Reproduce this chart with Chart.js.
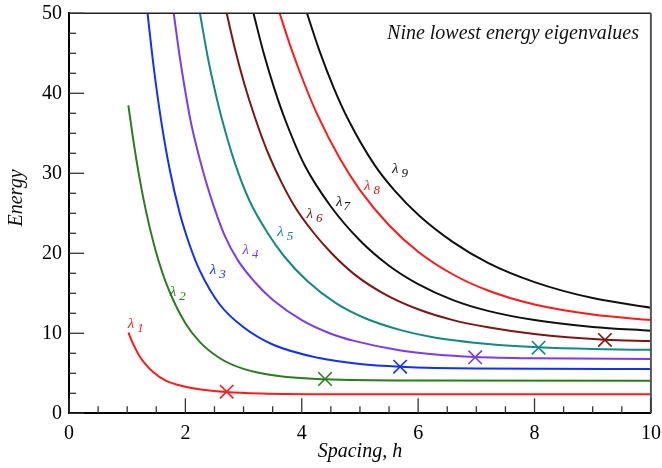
<!DOCTYPE html>
<html><head><meta charset="utf-8">
<script src="https://cdn.jsdelivr.net/npm/chart.js@4.4.0/dist/chart.umd.min.js"></script>
<style>html,body{margin:0;padding:0;background:#fff;}</style>
</head><body>
<canvas id="c" width="662" height="468"></canvas>
<script>
// ---- data (h = spacing, E = energy) ----
const seriesNames = ['λ1','λ2','λ3','λ4','λ5','λ6','λ7','λ8','λ9'];
const lambda1 = [[1.02,10.1],[1.1,8.7],[1.2,7.3],[1.3,6.27],[1.45,5.12],[1.67,4.05],[2.0,3.33],[2.3,2.95],[2.7,2.66],[3.3,2.48],[4.5,2.39],[10,2.37]];
const lambda2 = [[1.02,38.5],[1.1,34.4],[1.2,29.9],[1.33,25.05],[1.5,20.05],[1.7,15.7],[2.0,11.25],[2.25,8.9],[2.6,6.85],[3.0,5.55],[3.6,4.65],[4.4,4.25],[6,4.1],[10,4.08]];
const lambda3 = [[1.35,50],[1.45,43.6],[1.58,36.75],[1.73,30.5],[1.9,25.1],[2.07,21.1],[2.25,17.8],[2.59,13.6],[3.0,10.75],[3.5,8.6],[4.3,6.9],[5.0,6.15],[5.69,5.82],[7,5.6],[10,5.54]];
const lambda4 = [[1.80,50],[1.9,44.7],[1.99,40.6],[2.1,36.2],[2.25,31.7],[2.42,27.4],[2.67,22.3],[2.9,19.15],[3.2,16.35],[3.5,14.2],[4.0,11.65],[4.5,9.95],[4.9,9.05],[5.7,7.85],[6.3,7.35],[6.98,7.05],[8,6.88],[10,6.79]];
const lambda5 = [[2.25,50],[2.38,44.7],[2.5,40.6],[2.62,37.0],[2.85,31.3],[3.1,26.6],[3.4,22.7],[3.7,19.6],[4.1,16.5],[4.6,13.7],[5.1,11.85],[5.7,10.4],[6.3,9.45],[7.2,8.67],[8.07,8.25],[9,8.03],[10,7.93]];
const lambda6 = [[2.71,50],[2.85,45.6],[3.02,41.0],[3.19,37.1],[3.4,32.9],[3.65,28.9],[3.9,25.6],[4.2,22.6],[4.5,20.1],[4.9,17.4],[5.4,15.0],[6.0,13.0],[6.6,11.65],[7.2,10.75],[8.0,9.9],[9.21,9.2],[10,9.04]];
const lambda7 = [[3.17,50],[3.35,44.9],[3.53,40.55],[3.72,36.6],[4.05,31.0],[4.5,25.85],[5.0,21.6],[5.5,18.45],[6.0,16.15],[6.6,14.15],[7.2,12.8],[8.0,11.65],[9.0,10.8],[10,10.33]];
const lambda8 = [[3.62,50],[3.8,46.0],[4.05,41.1],[4.27,37.3],[4.65,31.9],[5.0,27.9],[5.5,23.5],[6.0,20.2],[6.6,17.35],[7.2,15.35],[8.0,13.6],[9.0,12.35],[10,11.65]];
const lambda9 = [[4.09,50],[4.3,45.4],[4.56,40.5],[4.8,36.7],[5.25,31.05],[5.6,27.8],[6.02,24.7],[6.6,21.4],[7.2,18.8],[8.0,16.4],[9.0,14.4],[10,13.2]];
const markerH = [2.71,4.4,5.69,6.98,8.07,9.21];
const markerE = [2.7,4.29,5.83,7.0,8.2,9.17];
const labelH = [1.01,1.73,2.42,2.98,3.58,4.08,4.59,5.07,5.55];
const labelE = [10.66,14.7,17.4,19.9,22.2,24.4,25.9,27.9,30.0];
const xTicks = [0,2,4,6,8,10];
const yTicks = [0,10,20,30,40,50];
const titleText = 'Nine lowest energy eigenvalues';
const xTitle = 'Spacing, h';
const yTitle = 'Energy';

const colors = ['#ff1a1a','#2a7d1c','#1030ff','#7a3cf0','#128a84','#7f1414','#111111','#ff1a1a','#111111'];
const allSeries = [lambda1,lambda2,lambda3,lambda4,lambda5,lambda6,lambda7,lambda8,lambda9];
const SERIF = "'Liberation Serif','DejaVu Serif',serif";

const datasets = [{
  label: 'markers',
  data: markerH.map((h,i)=>({x:h,y:markerE[i]})),
  showLine: false,
  pointStyle: 'crossRot',
  pointRadius: 9.5,
  pointBorderWidth: 1.6,
  pointBorderColor: colors.slice(0,6),
  pointBackgroundColor: colors.slice(0,6),
  order: -1
}].concat(allSeries.map((s,i)=>({
  label: seriesNames[i],
  data: s.map(([x,y])=>({x,y})),
  showLine: true,
  borderColor: colors[i],
  borderWidth: 2,
  pointRadius: 0,
  cubicInterpolationMode: 'monotone',
  fill: false
})));

const deco = {
  id: 'deco',
  afterDraw(chart) {
    const ctx = chart.ctx, xs = chart.scales.x, ys = chart.scales.y, a = chart.chartArea;
    ctx.save();
    // frame top & right
    ctx.lineWidth = 1.6; ctx.strokeStyle = '#222';
    ctx.beginPath(); ctx.moveTo(a.left, a.top); ctx.lineTo(a.right, a.top); ctx.stroke();
    ctx.strokeStyle = '#555'; ctx.lineWidth = 2;
    ctx.beginPath(); ctx.moveTo(a.right, a.top); ctx.lineTo(a.right, a.bottom); ctx.stroke();
    // inward ticks
    ctx.strokeStyle = '#333'; ctx.lineWidth = 1.3;
    for (let v = 0; v <= 10.001; v += 0.5) {
      const px = xs.getPixelForValue(v);
      const len = (Math.abs(v/2 - Math.round(v/2)) < 1e-6) ? 15 : 7;
      ctx.beginPath(); ctx.moveTo(px, a.bottom); ctx.lineTo(px, a.bottom - len); ctx.stroke();
    }
    for (let v = 0; v <= 50.001; v += 2.5) {
      const py = ys.getPixelForValue(v);
      const len = (Math.abs(v/10 - Math.round(v/10)) < 1e-6) ? 15 : 7;
      ctx.beginPath(); ctx.moveTo(a.left, py); ctx.lineTo(a.left + len, py); ctx.stroke();
    }
    // title inside plot
    ctx.fillStyle = '#111';
    ctx.font = 'italic 20px ' + SERIF;
    ctx.textAlign = 'right'; ctx.textBaseline = 'alphabetic';
    ctx.fillText(titleText, 639, 39);
    // y title
    ctx.save();
    ctx.translate(17, 198); ctx.rotate(-Math.PI/2);
    ctx.textAlign = 'center'; ctx.textBaseline = 'middle';
    ctx.font = 'italic 20px ' + SERIF;
    ctx.fillText(yTitle, 0, 0);
    ctx.restore();
    // curve labels
    ctx.textAlign = 'left'; ctx.textBaseline = 'alphabetic';
    for (let i = 0; i < 9; i++) {
      const px = xs.getPixelForValue(labelH[i]), py = ys.getPixelForValue(labelE[i]);
      ctx.fillStyle = colors[i];
      ctx.font = 'italic 15px ' + SERIF;
      ctx.fillText('λ', px, py);
      const w = ctx.measureText('λ').width;
      ctx.font = 'italic 13px ' + SERIF;
      ctx.fillText(seriesNames[i].slice(1), px + w + (i === 6 ? 1 : 3), py + 4);
    }
    ctx.restore();
  }
};

new Chart(document.getElementById('c'), {
  type: 'scatter',
  data: { datasets },
  options: {
    responsive: false,
    animation: false,
    devicePixelRatio: 1,
    layout: { padding: { top: 13.3, right: 10, left: 0, bottom: 0 } },
    plugins: { legend: { display: false }, tooltip: { enabled: false } },
    scales: {
      x: {
        type: 'linear', min: 0, max: 10,
        afterBuildTicks: s => { s.ticks = xTicks.map(v => ({ value: v })); },
        afterFit: s => { s.height = 54.7; s.paddingLeft = 0; s.paddingRight = 0; },
        ticks: { font: { family: SERIF, size: 20 }, color: '#000', padding: 8, maxRotation: 0, autoSkip: false },
        grid: { display: false, drawTicks: false },
        border: { display: true, color: '#000', width: 2 },
        title: { display: true, text: xTitle, color: '#000', font: { family: SERIF, size: 20, style: 'italic' }, padding: { top: 0, bottom: 4 } }
      },
      y: {
        type: 'linear', min: 0, max: 50,
        afterBuildTicks: s => { s.ticks = yTicks.map(v => ({ value: v })); },
        afterFit: s => { s.width = 69; s.paddingTop = 0; s.paddingBottom = 0; },
        ticks: { font: { family: SERIF, size: 20 }, color: '#000', padding: 7, autoSkip: false },
        grid: { display: false, drawTicks: false },
        border: { display: true, color: '#000', width: 2 },
        title: { display: false }
      }
    }
  },
  plugins: [deco]
});
</script>
</body></html>
